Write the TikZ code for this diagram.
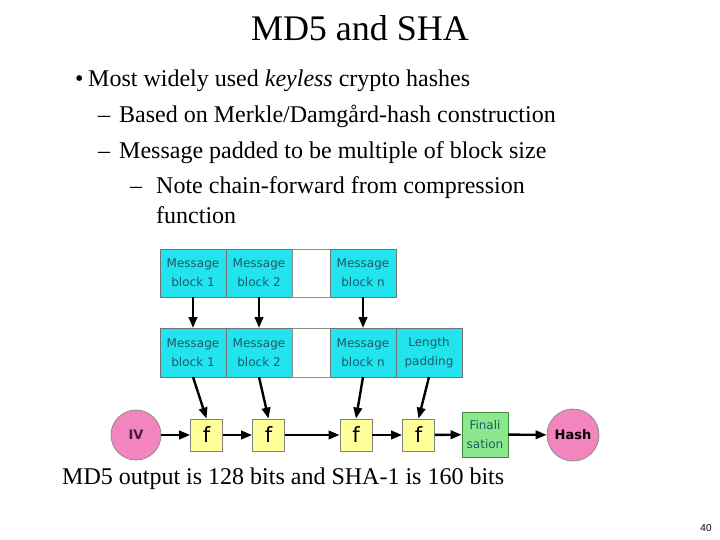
\documentclass[tikz,border=0pt]{standalone}
\usepackage{fontspec}
\setmainfont{Liberation Serif}
\newfontfamily\diagfont{DejaVu Sans}
\newfontfamily\pagefont{Liberation Sans}
\usetikzlibrary{positioning, arrows.meta}

\definecolor{msgcyan}{HTML}{22E4EE}
\definecolor{msgtext}{HTML}{1E5A6A}
\definecolor{ivpink}{HTML}{F285BE}
\definecolor{ivtext}{HTML}{4A1A3A}
\definecolor{fyellow}{HTML}{FFFF99}
\definecolor{fingreen}{HTML}{8CE88C}
\definecolor{finborder}{HTML}{3C8C3C}

\begin{document}
\begin{tikzpicture}[x=1pt, y=-1pt, >={Triangle[length=11pt,width=8.5pt]},
    slidetext/.style={anchor=base west, inner sep=0pt, font=\fontsize{24}{28}\selectfont},
    msgbox/.style={draw=black!55, line width=0.8pt, fill=msgcyan, minimum width=66pt,
        minimum height=48pt, inner sep=0pt, outer sep=0pt, align=center,
        text=msgtext, font=\diagfont\fontsize{12}{19}\selectfont},
    gapbox/.style={draw=black!45, line width=0.8pt, fill=white, minimum width=38pt,
        minimum height=48pt, inner sep=0pt, outer sep=0pt},
    fbox/.style={draw=black!50, line width=0.8pt, fill=fyellow, minimum size=32pt,
        inner sep=0pt, font=\diagfont\fontsize{21}{21}\selectfont},
    endcircle/.style={circle, draw=black!45, line width=0.8pt, fill=ivpink,
        minimum size=50pt, inner sep=0pt, font=\diagfont\bfseries\fontsize{13}{13}\selectfont},
    chain/.style={->, line width=2.4pt}]

    % --- Frame of the slide ---
    \useasboundingbox (0,0) rectangle (720,540);

    % --- Title ---
    \node[anchor=base, inner sep=0pt, font=\fontsize{36}{40}\selectfont] (title) at (360,41) {MD5 and SHA};

    % --- Bullets ---
    \node[slidetext] (bul1) at (75,87) {\textbullet};
    \node[slidetext] (line1) at (88,87) {Most widely used \textit{keyless} crypto hashes};
    \node[slidetext] (dash2) at (98,123) {--};
    \node[slidetext] (line2) at (119,123) {Based on Merkle/Damgård-hash construction};
    \node[slidetext] (dash3) at (98,159) {--};
    \node[slidetext] (line3) at (119,159) {Message padded to be multiple of block size};
    \node[slidetext] (dash4) at (130,194) {--};
    \node[slidetext] (line4) at (156,194) {Note chain-forward from compression};
    \node[slidetext] (line5) at (156,223) {function};

    % --- Message blocks ---
    \node[msgbox] (b1) at (193,273) {Message\\block 1};
    \node[msgbox, right=0pt of b1] (b2) {Message\\block 2};
    \node[gapbox, right=0pt of b2] (bgap) {};
    \node[msgbox, right=0pt of bgap] (bn) {Message\\block n};

    % --- Padded blocks ---
    \node[msgbox, minimum height=49pt] (p1) at (193,352.5) {Message\\block 1};
    \node[msgbox, minimum height=49pt, right=0pt of p1] (p2) {Message\\block 2};
    \node[gapbox, minimum height=49pt, right=0pt of p2] (pgap) {};
    \node[msgbox, minimum height=49pt, right=0pt of pgap] (pn) {Message\\block n};
    \node[msgbox, minimum height=49pt, right=0pt of pn] (pad) {Length\\padding};

    % --- Compression chain ---
    \node[endcircle, text=ivtext] (iv) at (136,435) {IV};
    \node[fbox] (f1) at (206.5,435) {f};
    \node[fbox] (f2) at (268.5,435) {f};
    \node[fbox] (f3) at (356,435) {f};
    \node[fbox] (f4) at (418.5,435) {f};
    \node[draw=finborder, line width=0.8pt, fill=fingreen, minimum width=46pt, minimum height=45pt,
        inner sep=0pt, align=center, text=msgtext, font=\diagfont\fontsize{12}{19}\selectfont]
        (fin) at (485,434.5) {Finali\\sation};
    \node[endcircle, minimum size=52pt, text=black] (hash) at (573,435) {Hash};

    % --- Arrows ---
    \draw[chain] (b1) -- (p1);
    \draw[chain] (b2) -- (p2);
    \draw[chain] (bn) -- (pn);
    \draw[chain] (p1.south) -- (f1.north);
    \draw[chain] (p2.south) -- (f2.north);
    \draw[chain] (pn.south) -- (f3.north);
    \draw[chain] (pad.south) -- (f4.north);
    \draw[chain] (iv) -- (f1);
    \draw[chain] (f1) -- (f2);
    \draw[chain] (f2) -- (f3);
    \draw[chain] (f3) -- (f4);
    \draw[chain] (f4) -- (fin);
    \draw[chain] (fin) -- (hash);

    % --- Footer ---
    \node[slidetext] (outnote) at (62,484) {MD5 output is 128 bits and SHA-1 is 160 bits};
    \node[anchor=base, inner sep=0pt, font=\pagefont\fontsize{10}{12}\selectfont] (pagenum) at (706,531) {40};

\end{tikzpicture}
\end{document}
